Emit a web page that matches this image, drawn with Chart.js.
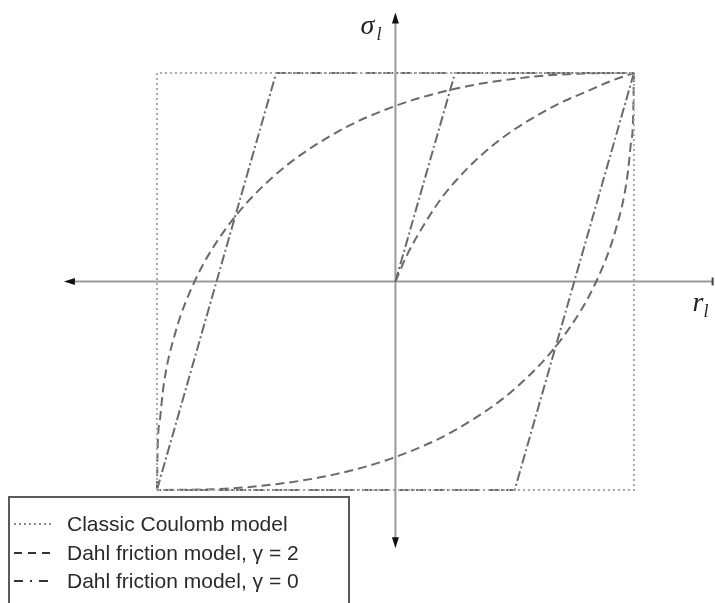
<!DOCTYPE html>
<html>
<head>
<meta charset="utf-8">
<title>Dahl friction hysteresis</title>
<script src="https://cdn.jsdelivr.net/npm/chart.js@4/dist/chart.umd.min.js"></script>
<style>
  html, body { margin: 0; padding: 0; background: #fff; }
  canvas { display: block; }
</style>
</head>
<body>
<canvas id="hysteresisChart" width="715" height="603"></canvas>
<script>
// Normalised displacement r_l (x) and friction stress sigma_l (y)
const coulombX = [-1, -1, 1, 1, -1];
const coulombY = [-1, 1, 1, -1, -1];

// Dahl, gamma = 2 : virgin curve from origin, then the two loop branches
const dahl2InitX = [0, 0.05, 0.124, 0.2, 0.3, 0.4, 0.5, 0.6, 0.69, 0.8, 0.9, 1];
const dahl2InitY = [0, 0.13, 0.28, 0.41, 0.54, 0.645, 0.73, 0.80, 0.856, 0.91, 0.96, 1];
const dahl2UpX = [-1, -0.997, -0.986, -0.972, -0.924, -0.842, -0.713, -0.515, -0.25, 0, 0.25, 0.5, 0.75, 1];
const dahl2UpY = [-1, -0.8, -0.65, -0.5, -0.25, 0, 0.25, 0.5, 0.713, 0.842, 0.924, 0.972, 0.996, 1];
const dahl2DownX = [1, 0.997, 0.986, 0.972, 0.924, 0.842, 0.713, 0.515, 0.25, 0, -0.25, -0.5, -0.75, -1];
const dahl2DownY = [1, 0.8, 0.65, 0.5, 0.25, 0, -0.25, -0.5, -0.713, -0.842, -0.924, -0.972, -0.996, -1];

// Dahl, gamma = 0 : linear stiffness until saturation
const dahl0X = [0, 0.25, 1, 0.5, -1, -0.5, 1];
const dahl0Y = [0, 1, 1, -1, -1, 1, 1];

const legendLabels = ['Classic Coulomb model', 'Dahl friction model, \u03b3 = 2', 'Dahl friction model, \u03b3 = 0'];

// axis extents in data units
const AXIS_X = [-1.39, 1.33];
const AXIS_Y = [-1.28, 1.29];

function toPoints(xs, ys) {
    return xs.map((x, i) => ({ x: x, y: ys[i] }));
}

const STYLES = [
    { color: '#a8a8a8', dash: [2, 3], legendDash: [2, 3] },
    { color: '#6a6a6a', dash: [9, 5], legendDash: [8, 6] },
    { color: '#6a6a6a', dash: [10, 3, 2, 3], legendDash: [9, 7, 2, 7] }
];

function lineSet(points, style, label) {
    return {
        label: label,
        data: points,
        showLine: true,
        borderColor: style.color,
        borderWidth: 2,
        borderDash: style.dash,
        pointRadius: 0,
        fill: false,
        tension: 0
    };
}

function curveSet(points, style, label) {
    const ds = lineSet(points, style, label);
    ds.cubicInterpolationMode = 'monotone';
    return ds;
}

/**
 * Draws the arrowed axes through the origin and their labels
 */
const axesPlugin = {
    id: 'axesArrows',
    beforeDatasetsDraw(chart) {
        const ctx = chart.ctx;
        const xs = chart.scales.x, ys = chart.scales.y;
        const x0 = xs.getPixelForValue(0), y0 = ys.getPixelForValue(0);
        const xl = xs.getPixelForValue(AXIS_X[0]), xr = xs.getPixelForValue(AXIS_X[1]);
        const yt = ys.getPixelForValue(AXIS_Y[1]), yb = ys.getPixelForValue(AXIS_Y[0]);

        ctx.save();
        ctx.strokeStyle = '#9a9a9a';
        ctx.lineWidth = 2;
        ctx.beginPath();
        ctx.moveTo(xl + 6, y0); ctx.lineTo(xr, y0);
        ctx.moveTo(x0, yt + 6); ctx.lineTo(x0, yb - 6);
        ctx.stroke();

        // end bar on the right of the r axis
        ctx.strokeStyle = '#444';
        ctx.beginPath();
        ctx.moveTo(xr, y0 - 4); ctx.lineTo(xr, y0 + 4);
        ctx.stroke();

        ctx.fillStyle = '#111';
        ctx.beginPath();
        ctx.moveTo(xl, y0); ctx.lineTo(xl + 11, y0 - 3.5); ctx.lineTo(xl + 11, y0 + 3.5);
        ctx.closePath();
        ctx.moveTo(x0, yt); ctx.lineTo(x0 - 3.5, yt + 11); ctx.lineTo(x0 + 3.5, yt + 11);
        ctx.closePath();
        ctx.moveTo(x0, yb); ctx.lineTo(x0 - 3.5, yb - 11); ctx.lineTo(x0 + 3.5, yb - 11);
        ctx.closePath();
        ctx.fill();

        ctx.fillStyle = '#222';
        ctx.textBaseline = 'alphabetic';
        ctx.font = 'italic 28px "Liberation Serif", "DejaVu Serif", serif';
        ctx.fillText('\u03c3', x0 - 35, 34);
        ctx.fillText('r', xr - 20, y0 + 30);
        ctx.font = 'italic 18px "Liberation Serif", "DejaVu Serif", serif';
        ctx.fillText('l', x0 - 19, 40);
        ctx.fillText('l', xr - 9, y0 + 36);
        ctx.restore();
    }
};

/**
 * Framed legend in the lower left corner
 */
const boxLegendPlugin = {
    id: 'boxLegend',
    afterDraw(chart) {
        const ctx = chart.ctx;
        const left = 9, top = 497, right = 349;
        ctx.save();
        ctx.fillStyle = '#fff';
        ctx.fillRect(left, top, right - left, 120);
        ctx.strokeStyle = '#5a5a5a';
        ctx.lineWidth = 2;
        ctx.strokeRect(left, top, right - left, 120);

        const rows = [524, 553, 581];
        ctx.font = '21px "Liberation Sans", Arial, sans-serif';
        ctx.textBaseline = 'middle';
        legendLabels.forEach((label, i) => {
            const st = STYLES[i];
            ctx.strokeStyle = i === 0 ? '#8a8a8a' : '#333';
            ctx.lineWidth = 2;
            ctx.setLineDash(st.legendDash);
            ctx.beginPath();
            ctx.moveTo(14, rows[i]); ctx.lineTo(51, rows[i]);
            ctx.stroke();
            ctx.setLineDash([]);
            ctx.fillStyle = '#2a2a2a';
            ctx.fillText(label, 67, rows[i] + 1);
        });
        ctx.restore();
    }
};

document.addEventListener('DOMContentLoaded', function() {
    const ctx = document.getElementById('hysteresisChart').getContext('2d');
    new Chart(ctx, {
        type: 'scatter',
        data: {
            datasets: [
                lineSet(toPoints(coulombX, coulombY), STYLES[0], legendLabels[0]),
                curveSet(toPoints(dahl2UpX, dahl2UpY), STYLES[1], legendLabels[1]),
                curveSet(toPoints(dahl2DownX, dahl2DownY), STYLES[1], ''),
                curveSet(toPoints(dahl2InitX, dahl2InitY), STYLES[1], ''),
                lineSet(toPoints(dahl0X, dahl0Y), STYLES[2], legendLabels[2])
            ]
        },
        options: {
            responsive: false,
            animation: false,
            devicePixelRatio: 1,
            layout: { padding: 0 },
            plugins: {
                legend: { display: false },
                tooltip: { enabled: false }
            },
            scales: {
                x: { type: 'linear', min: -1.658, max: 1.340, display: false },
                y: { type: 'linear', min: -1.542, max: 1.350, display: false }
            }
        },
        plugins: [axesPlugin, boxLegendPlugin]
    });
});
</script>
</body>
</html>
